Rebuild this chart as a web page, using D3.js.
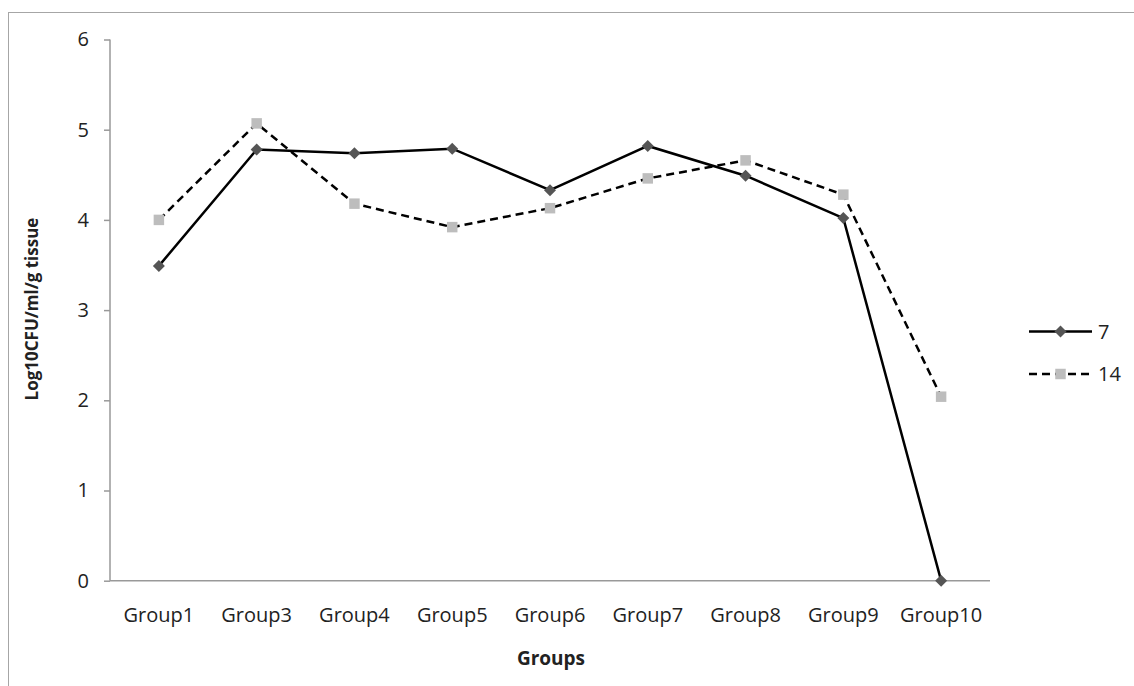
<!DOCTYPE html>
<html><head><meta charset="utf-8">
<script src="https://cdn.jsdelivr.net/npm/d3@7"></script>
<style>body{margin:0;background:#fff}svg{display:block}</style>
</head><body><svg id="c" width="1134" height="686"></svg>
<script>
const categories = ["Group1","Group3","Group4","Group5","Group6","Group7","Group8","Group9","Group10"];
const series7 = [3.49, 4.78, 4.74, 4.79, 4.33, 4.82, 4.49, 4.02, 0];
const series14 = [4.0, 5.07, 4.18, 3.92, 4.13, 4.46, 4.66, 4.28, 2.04];
const seriesNames = ["7","14"];
const yTicks = [0,1,2,3,4,5,6];

const svg = d3.select("#c");
const font = "'Open Sans', sans-serif";
svg.append("rect").attr("x",8.5).attr("y",12.5).attr("width",1200).attr("height",1000)
  .attr("fill","none").attr("stroke","#a6a6a6").attr("stroke-width",1);

const x = d3.scaleBand().domain(categories).range([110,990]);
const y = d3.scaleLinear().domain([0,6]).range([580.7,39.5]);

const yAxis = svg.append("g").attr("transform","translate(110,0)")
  .call(d3.axisLeft(y).tickValues(yTicks).tickSize(6).tickPadding(15).tickFormat(d3.format("d")));
yAxis.select(".domain").attr("stroke","#999").attr("stroke-width",1.5).attr("d","M0,"+y(6)+"V"+y(0));
yAxis.selectAll(".tick line").attr("stroke","#999").attr("stroke-width",1.5);
yAxis.selectAll("text").attr("font-family",font).attr("font-size",20).attr("fill","#222");

const xAxis = svg.append("g").attr("transform","translate(0,"+y(0)+")")
  .call(d3.axisBottom(x).tickSize(0).tickPadding(27));
xAxis.select(".domain").attr("stroke","#999").attr("stroke-width",1.5).attr("d","M110,0H990");
xAxis.selectAll("text").attr("font-family",font).attr("font-size",20).attr("fill","#222");

const cx = d => x(d) + x.bandwidth()/2;
const line = d3.line().x((d,i)=>cx(categories[i])).y(d=>y(d));

svg.append("path").datum(series14).attr("d",line).attr("fill","none")
  .attr("stroke","#000").attr("stroke-width",2.5).attr("stroke-dasharray","8,5");
svg.append("path").datum(series7).attr("d",line).attr("fill","none")
  .attr("stroke","#000").attr("stroke-width",2.5);

const sq = d3.symbol().type(d3.symbolSquare).size(110);
const diamond = "M0,-6L6,0L0,6L-6,0Z";
svg.selectAll(".m14").data(series14).join("path").attr("class","m14")
  .attr("d",sq).attr("fill","#bdbdbd")
  .attr("transform",(d,i)=>`translate(${cx(categories[i])},${y(d)})`);
svg.selectAll(".m7").data(series7).join("path").attr("class","m7")
  .attr("d",diamond).attr("fill","#555")
  .attr("transform",(d,i)=>`translate(${cx(categories[i])},${y(d)})`);

// legend
const lg = svg.append("g");
const ly = [331.5, 374];
lg.append("line").attr("x1",1029).attr("x2",1092).attr("y1",ly[0]).attr("y2",ly[0]).attr("stroke","#000").attr("stroke-width",2.5);
lg.append("path").attr("d",diamond).attr("fill","#555").attr("transform",`translate(1060.5,${ly[0]})`);
lg.append("line").attr("x1",1029).attr("x2",1092).attr("y1",ly[1]).attr("y2",ly[1]).attr("stroke","#000").attr("stroke-width",2.5).attr("stroke-dasharray","8,5");
lg.append("path").attr("d",sq).attr("fill","#bdbdbd").attr("transform",`translate(1060.5,${ly[1]})`);
seriesNames.forEach((n,i)=>{
  lg.append("text").attr("x",1098).attr("y",ly[i]).attr("dy","0.36em").text(n)
    .attr("font-family",font).attr("font-size",20).attr("fill","#222");
});

svg.append("text").attr("x",551).attr("y",665).attr("text-anchor","middle")
  .attr("font-family",font).attr("font-size",19).attr("font-weight","bold").attr("fill","#222").text("Groups");
svg.append("text").attr("transform","translate(38,309) rotate(-90)").attr("text-anchor","middle")
  .attr("font-family",font).attr("font-size",17).attr("font-weight","bold").attr("fill","#222").text("Log10CFU/ml/g tissue");
</script></body></html>
